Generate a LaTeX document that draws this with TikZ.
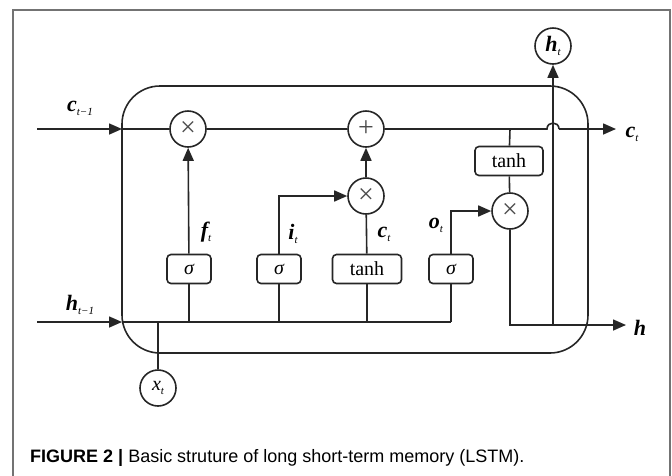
\documentclass[tikz,border=0pt]{standalone}
\usepackage{fontspec}
\usetikzlibrary{arrows.meta,calc}
\newfontfamily\tnr{Liberation Serif}
\newfontfamily\capfont{Liberation Sans}
\newcommand\lab[2]{{\fontsize{22}{22}\selectfont\tnr\bfseries\itshape #1}\raisebox{-4pt}{\fontsize{11}{11}\selectfont\tnr\itshape #2}}
\tikzset{
  ln/.style={line width=1.6pt, draw=black!85},
  arr/.style={ln, -{Triangle[length=13pt,width=11pt]}},
  op/.style={circle, ln, minimum size=36pt, inner sep=0pt, text=black!70, font=\fontsize{28}{28}\selectfont\tnr},
  gate/.style={rectangle, rounded corners=4pt, ln, minimum width=44pt, minimum height=29pt, inner sep=0pt, font=\fontsize{20}{20}\selectfont\tnr},
  tgate/.style={gate, minimum width=69pt},
  io/.style={circle, ln, minimum size=36pt, inner sep=0pt},
  txt/.style={inner sep=0pt}
}
\begin{document}
\begin{tikzpicture}[x=1pt,y=-1pt]
\useasboundingbox (0,0) rectangle (672,475);
% frame
\draw[line width=1.5pt, draw=black!55] (13,476) -- (13,10) -- (670,10) -- (670,476);
% cell box
\draw[ln, rounded corners=38pt] (122,86) rectangle (588,353);
% operator nodes
\node[op] (mf) at (188,129) {×};
\node[op] (add) at (366,129) {+};
\node[op] (mi) at (366,196) {×};
\node[op] (mo) at (510,211) {×};
\node[gate, minimum width=68pt] (tt) at (509,161) {tanh};
% gates
\node[gate] (sf) at (189,269) {{\itshape σ}};
\node[gate] (si) at (279,269) {{\itshape σ}};
\node[tgate] (tc) at (367,269) {tanh};
\node[gate] (so) at (451,269) {{\itshape σ}};
% io
\node[io] (ht) at (553,46) {\lab{h}{t}};
\node[io] (xt) at (158,388) {{\fontsize{20}{20}\selectfont\tnr\itshape x}\raisebox{-4pt}{\fontsize{11}{11}\selectfont\tnr\itshape t}};
% coordinates
\coordinate (cin) at (37,129);
\coordinate (cL) at (122,129);
\coordinate (cout) at (616,129);
\coordinate (hin) at (37,322);
\coordinate (hL) at (122,322);
\coordinate (hend) at (451,322);
\coordinate (hout) at (626,325);
\coordinate (tap) at (510,129);
\coordinate (hb) at (553,325);
\coordinate (hopa) at (547,129);
\coordinate (hopb) at (559,129);
% cell state line
\draw[arr] (cin) -- (cL);
\draw[ln] (cL) -- (mf) -- (add) -- (hopa) .. controls ($(hopa)+(0,-8)$) and ($(hopb)+(0,-8)$) .. (hopb);
\draw[arr] (hopb) -- (cout);
\draw[ln] (tap) -- (tt) -- (mo);
% hidden input line
\draw[arr] (hin) -- (hL);
\draw[ln] (hL) -- (hend);
\draw[ln] (sf) -- (sf |- hend);
\draw[ln] (si) -- (si |- hend);
\draw[ln] (tc) -- (tc |- hend);
\draw[ln] (so) -- (hend);
\draw[ln] (xt) -- (xt |- hend);
% gate connections
\draw[arr] (sf) -- (mf);
\draw[arr] (si.north) |- (mi);
\draw[ln] (tc) -- (mi);
\draw[arr] (mi) -- (add);
\draw[arr] (so.north) |- (mo);
\draw[arr] (mo) |- (hout);
\draw[arr] (hb) -- (ht);
% labels
\node[txt] (lc1) at (80,108) {\lab{c}{t−1}};
\node[txt] (lh1) at (80,305) {\lab{h}{t−1}};
\node[txt] (lf) at (206,232) {\lab{f}{t}};
\node[txt] (li) at (293,234) {\lab{i}{t}};
\node[txt] (lc) at (384,234) {\lab{c}{t}};
\node[txt] (lo) at (436,225) {\lab{o}{t}};
\node[txt] (lct) at (632,134) {\lab{c}{t}};
\node[txt] (lh) at (640,328) {{\fontsize{22}{22}\selectfont\tnr\bfseries\itshape h}};
% caption
\node[txt, anchor=base west] (cap) at (30,462) {\capfont\fontsize{18}{20}\selectfont\textbf{FIGURE 2 |} Basic struture of long short-term memory (LSTM).};
\end{tikzpicture}
\end{document}
